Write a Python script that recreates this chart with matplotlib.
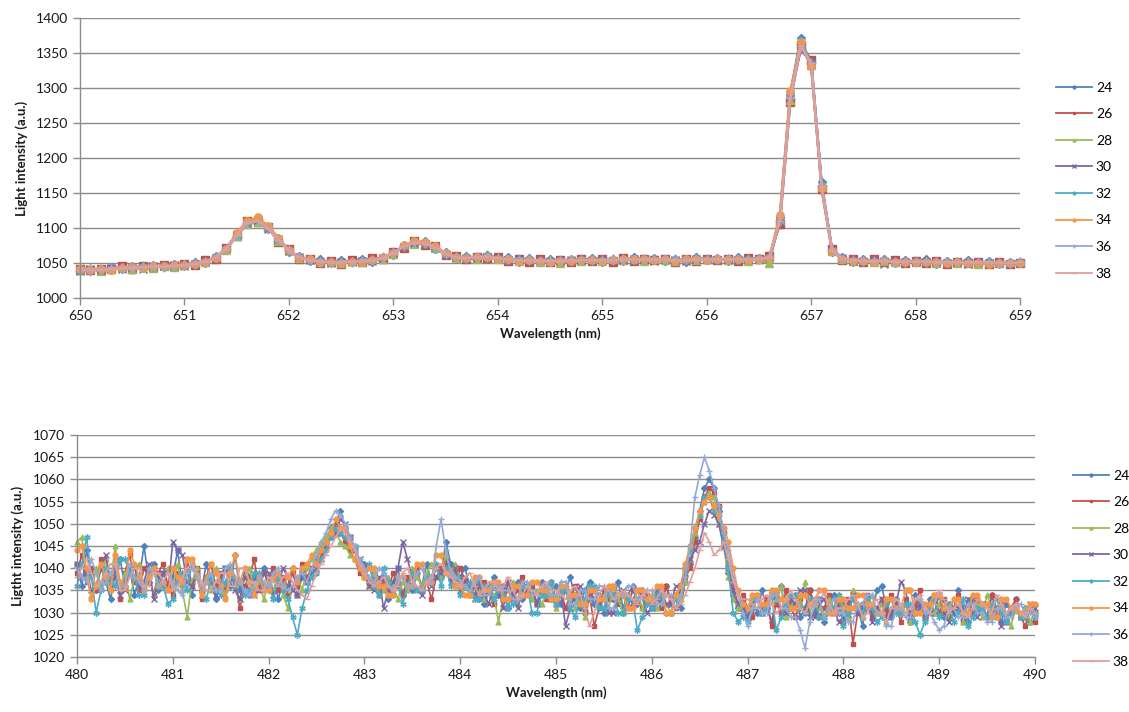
import numpy as np
import matplotlib
matplotlib.use("Agg")
import matplotlib.pyplot as plt

plt.rcParams['font.family'] = ['Lato', 'DejaVu Sans']

# series names and wavelength grids (nm)
series_names = ["24", "26", "28", "30", "32", "34", "36", "38"]
top_wl = np.round(650.0 + 0.1 * np.arange(91), 2)
bottom_wl = np.round(480.0 + 0.05 * np.arange(201), 2)

# top panel intensities (a.u.), 650.0 -> 659.0 nm, step 0.1
top_24 = [1039, 1042, 1038, 1044, 1042, 1045, 1043, 1047, 1044, 1048,
          1046, 1051, 1050, 1060, 1068, 1092, 1106, 1112, 1098, 1085,
          1066, 1060, 1053, 1055, 1050, 1054, 1051, 1056, 1052, 1059,
          1062, 1076, 1078, 1081, 1070, 1065, 1056, 1060, 1055, 1062,
          1056, 1058, 1052, 1057, 1051, 1055, 1052, 1056, 1053, 1057,
          1052, 1056, 1053, 1058, 1054, 1057, 1053, 1056, 1052, 1058,
          1054, 1057, 1053, 1058, 1054, 1057, 1057, 1115, 1290, 1372,
          1330, 1165, 1066, 1058, 1052, 1056, 1051, 1055, 1050, 1054,
          1051, 1055, 1049, 1053, 1050, 1054, 1049, 1053, 1048, 1052,
          1052]
top_26 = [1041, 1040, 1042, 1041, 1045, 1042, 1046, 1044, 1047, 1045,
          1049, 1047, 1054, 1056, 1072, 1088, 1110, 1108, 1102, 1080,
          1070, 1056, 1056, 1050, 1053, 1049, 1054, 1052, 1057, 1055,
          1066, 1072, 1081, 1076, 1074, 1061, 1060, 1055, 1059, 1057,
          1058, 1053, 1056, 1052, 1055, 1051, 1054, 1052, 1055, 1053,
          1056, 1052, 1057, 1053, 1056, 1054, 1055, 1052, 1056, 1053,
          1056, 1054, 1056, 1053, 1057, 1055, 1060, 1105, 1280, 1362,
          1340, 1155, 1070, 1054, 1056, 1051, 1055, 1052, 1054, 1050,
          1053, 1050, 1053, 1049, 1052, 1050, 1052, 1048, 1051, 1049,
          1050]
top_28 = [1040, 1043, 1039, 1042, 1044, 1041, 1045, 1043, 1046, 1044,
          1048, 1050, 1051, 1059, 1069, 1089, 1105, 1109, 1101, 1082,
          1069, 1057, 1055, 1051, 1052, 1050, 1053, 1051, 1055, 1056,
          1063, 1075, 1077, 1079, 1071, 1064, 1057, 1058, 1056, 1060,
          1055, 1056, 1053, 1055, 1052, 1054, 1050, 1055, 1053, 1055,
          1053, 1055, 1054, 1056, 1053, 1056, 1054, 1053, 1055, 1054,
          1055, 1056, 1054, 1055, 1053, 1056, 1050, 1112, 1283, 1358,
          1333, 1158, 1067, 1055, 1053, 1054, 1052, 1053, 1051, 1053,
          1051, 1053, 1050, 1052, 1050, 1052, 1049, 1051, 1050, 1051,
          1051]
top_30 = [1038, 1041, 1040, 1043, 1042, 1044, 1042, 1045, 1045, 1047,
          1046, 1048, 1053, 1057, 1071, 1091, 1107, 1111, 1099, 1084,
          1067, 1059, 1054, 1052, 1050, 1051, 1052, 1053, 1053, 1057,
          1064, 1073, 1079, 1077, 1073, 1062, 1059, 1056, 1057, 1058,
          1057, 1054, 1055, 1053, 1054, 1052, 1053, 1054, 1054, 1053,
          1055, 1053, 1054, 1055, 1056, 1053, 1055, 1054, 1053, 1056,
          1055, 1054, 1056, 1054, 1056, 1055, 1057, 1108, 1288, 1355,
          1338, 1162, 1069, 1057, 1053, 1052, 1054, 1049, 1053, 1051,
          1052, 1051, 1052, 1050, 1051, 1049, 1052, 1050, 1050, 1049,
          1050]
top_32 = [1041, 1039, 1041, 1042, 1043, 1044, 1045, 1044, 1046, 1046,
          1047, 1050, 1052, 1058, 1070, 1090, 1109, 1113, 1100, 1083,
          1068, 1058, 1054, 1053, 1052, 1052, 1051, 1054, 1054, 1058,
          1065, 1074, 1080, 1079, 1072, 1063, 1058, 1058, 1059, 1061,
          1057, 1055, 1055, 1054, 1053, 1053, 1054, 1053, 1055, 1054,
          1054, 1055, 1055, 1054, 1055, 1056, 1054, 1055, 1054, 1055,
          1056, 1055, 1055, 1056, 1055, 1056, 1058, 1112, 1292, 1368,
          1336, 1163, 1068, 1056, 1054, 1053, 1053, 1054, 1052, 1052,
          1053, 1052, 1051, 1052, 1051, 1051, 1050, 1051, 1050, 1050,
          1052]
top_34 = [1042, 1040, 1041, 1040, 1043, 1044, 1043, 1046, 1045, 1047,
          1047, 1049, 1052, 1057, 1070, 1093, 1110, 1115, 1103, 1086,
          1068, 1057, 1055, 1052, 1051, 1050, 1052, 1052, 1054, 1058,
          1064, 1075, 1081, 1080, 1074, 1064, 1058, 1057, 1058, 1058,
          1056, 1055, 1053, 1054, 1053, 1052, 1053, 1053, 1054, 1054,
          1053, 1054, 1055, 1056, 1055, 1054, 1055, 1053, 1055, 1055,
          1054, 1055, 1055, 1055, 1054, 1056, 1057, 1118, 1295, 1365,
          1332, 1157, 1067, 1056, 1053, 1053, 1052, 1053, 1052, 1051,
          1052, 1051, 1051, 1050, 1051, 1050, 1050, 1049, 1050, 1050,
          1050]
top_36 = [1039, 1041, 1040, 1043, 1043, 1042, 1044, 1045, 1044, 1046,
          1047, 1049, 1052, 1058, 1070, 1089, 1107, 1110, 1100, 1083,
          1068, 1058, 1054, 1052, 1051, 1051, 1052, 1053, 1054, 1057,
          1064, 1074, 1079, 1078, 1072, 1063, 1058, 1057, 1058, 1059,
          1057, 1055, 1054, 1054, 1053, 1053, 1053, 1054, 1054, 1054,
          1054, 1054, 1055, 1055, 1055, 1055, 1055, 1054, 1054, 1055,
          1055, 1055, 1055, 1055, 1055, 1056, 1058, 1110, 1286, 1360,
          1335, 1160, 1068, 1056, 1054, 1053, 1053, 1053, 1052, 1052,
          1052, 1052, 1051, 1051, 1051, 1051, 1051, 1051, 1050, 1050,
          1051]
top_38 = [1040, 1041, 1040, 1042, 1043, 1043, 1044, 1045, 1045, 1046,
          1047, 1049, 1052, 1058, 1070, 1090, 1108, 1110, 1100, 1083,
          1068, 1058, 1054, 1052, 1051, 1051, 1052, 1053, 1054, 1057,
          1064, 1074, 1079, 1078, 1072, 1063, 1058, 1057, 1058, 1059,
          1057, 1055, 1054, 1054, 1053, 1053, 1053, 1054, 1054, 1054,
          1054, 1054, 1055, 1055, 1055, 1055, 1055, 1054, 1054, 1055,
          1055, 1055, 1055, 1055, 1055, 1056, 1058, 1110, 1285, 1360,
          1335, 1160, 1068, 1056, 1054, 1053, 1053, 1053, 1052, 1052,
          1052, 1052, 1051, 1051, 1051, 1051, 1051, 1051, 1050, 1050,
          1051]

# bottom panel intensities (a.u.), 480.0 -> 490.0 nm, step 0.05 (one row per nm)
bot_24 = [1041, 1036, 1044, 1039, 1035, 1040, 1037, 1033, 1039, 1042, 1036, 1040, 1034, 1038, 1045, 1037, 1041, 1035, 1039, 1036,
          1038, 1044, 1036, 1040, 1034, 1039, 1035, 1041, 1037, 1033, 1038, 1040, 1036, 1043, 1035, 1039, 1034, 1038, 1036, 1040,
          1035, 1039, 1033, 1037, 1036, 1040, 1034, 1038, 1037, 1039, 1042, 1044, 1046, 1049, 1050, 1053, 1049, 1047, 1044, 1040,
          1041, 1037, 1039, 1035, 1038, 1033, 1036, 1040, 1034, 1037, 1035, 1039, 1036, 1041, 1037, 1040, 1038, 1046, 1041, 1039,
          1038, 1040, 1036, 1034, 1037, 1032, 1035, 1038, 1034, 1036, 1031, 1035, 1037, 1033, 1036, 1034, 1032, 1037, 1035, 1033,
          1036, 1032, 1035, 1038, 1033, 1031, 1035, 1037, 1032, 1034, 1030, 1035, 1033, 1037, 1031, 1034, 1036, 1032, 1035, 1033,
          1031, 1035, 1033, 1036, 1032, 1034, 1031, 1037, 1041, 1047, 1053, 1058, 1060, 1058, 1053, 1046, 1039, 1034, 1031, 1033,
          1029, 1033, 1030, 1035, 1031, 1028, 1033, 1036, 1030, 1032, 1034, 1029, 1031, 1035, 1030, 1033, 1028, 1032, 1034, 1030,
          1032, 1029, 1034, 1031, 1027, 1033, 1030, 1035, 1036, 1031, 1029, 1033, 1030, 1032, 1028, 1034, 1031, 1029, 1033, 1030,
          1034, 1029, 1032, 1030, 1035, 1031, 1028, 1033, 1030, 1032, 1029, 1034, 1031, 1028, 1032, 1030, 1033, 1029, 1031, 1028,
          1030]
bot_26 = [1039, 1043, 1037, 1040, 1035, 1042, 1038, 1036, 1041, 1033, 1039, 1043, 1037, 1035, 1040, 1038, 1034, 1039, 1041, 1036,
          1034, 1039, 1037, 1042, 1036, 1040, 1033, 1038, 1041, 1036, 1039, 1035, 1040, 1037, 1031, 1036, 1038, 1042, 1035, 1039,
          1037, 1040, 1035, 1038, 1034, 1039, 1036, 1041, 1038, 1040, 1039, 1043, 1045, 1047, 1050, 1048, 1046, 1044, 1042, 1039,
          1040, 1036, 1038, 1034, 1037, 1035, 1039, 1036, 1034, 1038, 1036, 1040, 1035, 1037, 1033, 1038, 1040, 1042, 1038, 1036,
          1040, 1037, 1034, 1036, 1033, 1037, 1035, 1032, 1036, 1034, 1037, 1033, 1035, 1038, 1034, 1036, 1032, 1035, 1033, 1037,
          1033, 1035, 1031, 1034, 1036, 1033, 1030, 1034, 1027, 1031, 1035, 1033, 1036, 1032, 1034, 1031, 1035, 1033, 1031, 1034,
          1032, 1034, 1031, 1036, 1033, 1031, 1035, 1038, 1040, 1046, 1051, 1056, 1058, 1057, 1054, 1048, 1041, 1036, 1032, 1034,
          1031, 1029, 1034, 1031, 1033, 1027, 1032, 1030, 1035, 1031, 1029, 1033, 1030, 1035, 1032, 1029, 1031, 1034, 1030, 1032,
          1028, 1033, 1023, 1030, 1032, 1034, 1029, 1031, 1033, 1030, 1034, 1031, 1028, 1033, 1030, 1032, 1035, 1029, 1031, 1034,
          1030, 1033, 1029, 1031, 1034, 1028, 1032, 1030, 1033, 1031, 1029, 1034, 1030, 1032, 1028, 1031, 1033, 1029, 1027, 1031,
          1028]
bot_28 = [1046, 1047, 1038, 1034, 1040, 1036, 1042, 1037, 1045, 1035, 1039, 1033, 1038, 1041, 1036, 1039, 1034, 1038, 1036, 1040,
          1036, 1041, 1035, 1029, 1037, 1040, 1034, 1038, 1035, 1040, 1037, 1034, 1039, 1036, 1033, 1038, 1040, 1035, 1037, 1033,
          1037, 1035, 1039, 1034, 1031, 1036, 1038, 1035, 1040, 1042, 1044, 1046, 1047, 1049, 1048, 1046, 1045, 1043, 1042, 1040,
          1038, 1036, 1039, 1034, 1035, 1038, 1036, 1033, 1037, 1035, 1040, 1038, 1036, 1039, 1041, 1040, 1038, 1043, 1039, 1041,
          1037, 1036, 1034, 1038, 1035, 1033, 1036, 1034, 1028, 1033, 1035, 1037, 1032, 1034, 1036, 1033, 1035, 1032, 1034, 1036,
          1031, 1034, 1036, 1033, 1031, 1035, 1029, 1033, 1035, 1032, 1034, 1031, 1036, 1033, 1030, 1034, 1032, 1035, 1031, 1033,
          1034, 1031, 1035, 1032, 1030, 1034, 1033, 1037, 1042, 1048, 1052, 1055, 1057, 1056, 1050, 1045, 1038, 1033, 1031, 1030,
          1031, 1033, 1034, 1030, 1032, 1035, 1033, 1036, 1029, 1031, 1034, 1032, 1037, 1030, 1033, 1031, 1029, 1033, 1031, 1034,
          1031, 1029, 1035, 1032, 1029, 1031, 1034, 1030, 1032, 1028, 1031, 1033, 1030, 1032, 1028, 1030, 1033, 1029, 1031, 1030,
          1032, 1030, 1029, 1033, 1031, 1028, 1033, 1030, 1032, 1029, 1034, 1031, 1029, 1032, 1030, 1027, 1031, 1029, 1031, 1028,
          1030]
bot_30 = [1041, 1038, 1039, 1035, 1036, 1040, 1043, 1037, 1038, 1034, 1035, 1039, 1040, 1036, 1037, 1041, 1033, 1038, 1039, 1035,
          1046, 1044, 1043, 1037, 1036, 1039, 1034, 1037, 1038, 1034, 1036, 1040, 1040, 1035, 1033, 1038, 1037, 1034, 1035, 1039,
          1039, 1034, 1036, 1040, 1038, 1035, 1034, 1039, 1037, 1040, 1040, 1042, 1045, 1047, 1048, 1051, 1050, 1047, 1044, 1042,
          1039, 1036, 1035, 1038, 1031, 1035, 1037, 1040, 1046, 1042, 1038, 1035, 1034, 1037, 1036, 1038, 1039, 1041, 1037, 1040,
          1035, 1038, 1036, 1033, 1036, 1034, 1032, 1036, 1035, 1031, 1037, 1034, 1031, 1035, 1034, 1036, 1032, 1034, 1036, 1033,
          1032, 1035, 1027, 1031, 1034, 1036, 1031, 1033, 1035, 1032, 1033, 1030, 1030, 1034, 1035, 1031, 1032, 1035, 1034, 1030,
          1031, 1033, 1035, 1032, 1032, 1036, 1036, 1039, 1042, 1044, 1046, 1050, 1053, 1052, 1050, 1045, 1040, 1035, 1032, 1031,
          1029, 1032, 1033, 1030, 1031, 1034, 1034, 1031, 1030, 1033, 1032, 1035, 1035, 1029, 1029, 1032, 1033, 1030, 1031, 1028,
          1029, 1031, 1034, 1030, 1031, 1033, 1028, 1031, 1033, 1029, 1030, 1032, 1037, 1035, 1029, 1031, 1032, 1029, 1030, 1033,
          1034, 1030, 1028, 1031, 1031, 1029, 1033, 1030, 1029, 1032, 1032, 1030, 1030, 1027, 1028, 1031, 1031, 1029, 1029, 1032,
          1031]
bot_32 = [1036, 1041, 1047, 1038, 1030, 1035, 1040, 1037, 1036, 1042, 1042, 1039, 1038, 1034, 1034, 1038, 1040, 1037, 1036, 1032,
          1033, 1037, 1039, 1035, 1041, 1038, 1035, 1033, 1038, 1035, 1034, 1037, 1040, 1036, 1037, 1034, 1035, 1039, 1039, 1036,
          1036, 1033, 1038, 1035, 1033, 1029, 1025, 1031, 1035, 1038, 1039, 1042, 1044, 1047, 1049, 1048, 1047, 1045, 1045, 1041,
          1039, 1041, 1036, 1034, 1040, 1037, 1034, 1037, 1032, 1036, 1039, 1035, 1035, 1038, 1038, 1041, 1036, 1040, 1036, 1038,
          1034, 1036, 1037, 1033, 1033, 1036, 1036, 1033, 1035, 1034, 1031, 1032, 1033, 1036, 1036, 1030, 1030, 1034, 1034, 1037,
          1032, 1035, 1035, 1031, 1029, 1033, 1033, 1036, 1036, 1031, 1031, 1034, 1034, 1030, 1030, 1033, 1033, 1026, 1029, 1032,
          1031, 1034, 1034, 1030, 1030, 1033, 1036, 1040, 1044, 1049, 1052, 1056, 1056, 1053, 1053, 1046, 1040, 1030, 1028, 1029,
          1028, 1031, 1033, 1030, 1031, 1034, 1026, 1029, 1032, 1034, 1034, 1031, 1030, 1033, 1033, 1029, 1029, 1031, 1031, 1034,
          1027, 1030, 1033, 1031, 1030, 1033, 1031, 1028, 1029, 1032, 1033, 1030, 1030, 1032, 1032, 1028, 1025, 1028, 1031, 1033,
          1029, 1031, 1032, 1028, 1030, 1033, 1027, 1029, 1031, 1031, 1029, 1032, 1033, 1030, 1028, 1031, 1031, 1029, 1029, 1031,
          1029]
bot_34 = [1044, 1045, 1040, 1033, 1036, 1041, 1038, 1035, 1043, 1037, 1036, 1044, 1041, 1038, 1035, 1038, 1040, 1036, 1037, 1035,
          1040, 1038, 1037, 1042, 1042, 1038, 1034, 1037, 1041, 1039, 1036, 1033, 1039, 1043, 1037, 1040, 1037, 1034, 1038, 1035,
          1035, 1038, 1039, 1036, 1038, 1040, 1037, 1040, 1041, 1043, 1041, 1044, 1046, 1048, 1051, 1049, 1049, 1045, 1042, 1040,
          1038, 1040, 1040, 1036, 1036, 1034, 1034, 1038, 1038, 1036, 1036, 1041, 1041, 1037, 1037, 1043, 1043, 1039, 1039, 1036,
          1036, 1034, 1034, 1038, 1038, 1035, 1035, 1037, 1037, 1033, 1033, 1036, 1036, 1034, 1034, 1037, 1037, 1035, 1035, 1033,
          1033, 1036, 1036, 1034, 1034, 1032, 1032, 1035, 1035, 1033, 1033, 1036, 1036, 1034, 1034, 1031, 1031, 1035, 1035, 1033,
          1033, 1036, 1036, 1030, 1030, 1034, 1036, 1041, 1045, 1049, 1053, 1055, 1056, 1054, 1052, 1049, 1046, 1040, 1035, 1032,
          1031, 1034, 1034, 1032, 1032, 1035, 1035, 1033, 1033, 1031, 1031, 1034, 1034, 1032, 1032, 1035, 1035, 1030, 1030, 1033,
          1033, 1031, 1031, 1034, 1034, 1032, 1032, 1030, 1030, 1033, 1033, 1031, 1031, 1035, 1035, 1030, 1030, 1032, 1032, 1034,
          1034, 1031, 1031, 1033, 1033, 1030, 1030, 1034, 1034, 1032, 1032, 1029, 1029, 1033, 1033, 1031, 1031, 1030, 1030, 1032,
          1032]
bot_36 = [1040, 1038, 1037, 1042, 1039, 1035, 1037, 1039, 1041, 1036, 1036, 1041, 1038, 1037, 1035, 1040, 1039, 1036, 1037, 1039,
          1037, 1035, 1034, 1039, 1040, 1038, 1036, 1037, 1039, 1035, 1035, 1040, 1041, 1038, 1037, 1035, 1034, 1036, 1038, 1037,
          1036, 1039, 1040, 1036, 1035, 1036, 1038, 1039, 1037, 1040, 1043, 1046, 1048, 1051, 1053, 1052, 1050, 1047, 1045, 1042,
          1040, 1038, 1037, 1040, 1039, 1036, 1035, 1038, 1038, 1036, 1036, 1039, 1040, 1037, 1037, 1045, 1051, 1044, 1039, 1038,
          1037, 1036, 1035, 1037, 1038, 1034, 1034, 1036, 1036, 1035, 1035, 1033, 1033, 1037, 1037, 1034, 1034, 1036, 1036, 1034,
          1034, 1037, 1037, 1032, 1032, 1035, 1035, 1033, 1033, 1036, 1036, 1031, 1031, 1034, 1034, 1036, 1036, 1033, 1033, 1035,
          1035, 1032, 1032, 1034, 1034, 1031, 1034, 1038, 1045, 1056, 1061, 1065, 1062, 1058, 1054, 1048, 1044, 1038, 1034, 1030,
          1027, 1031, 1033, 1030, 1030, 1034, 1034, 1031, 1031, 1029, 1029, 1026, 1022, 1028, 1032, 1033, 1029, 1031, 1033, 1030,
          1030, 1028, 1028, 1032, 1032, 1034, 1034, 1030, 1030, 1027, 1027, 1031, 1031, 1029, 1029, 1033, 1033, 1030, 1030, 1028,
          1026, 1027, 1031, 1031, 1029, 1029, 1032, 1032, 1030, 1030, 1028, 1028, 1031, 1031, 1029, 1029, 1032, 1032, 1030, 1030,
          1029]
bot_38 = [1038, 1040, 1042, 1039, 1036, 1037, 1039, 1041, 1041, 1035, 1035, 1038, 1040, 1040, 1036, 1036, 1039, 1039, 1037, 1039,
          1035, 1036, 1038, 1040, 1041, 1039, 1037, 1035, 1035, 1037, 1039, 1039, 1036, 1036, 1040, 1040, 1037, 1037, 1035, 1035,
          1038, 1037, 1036, 1038, 1039, 1037, 1035, 1034, 1033, 1036, 1039, 1041, 1043, 1045, 1047, 1049, 1048, 1046, 1044, 1041,
          1039, 1037, 1036, 1037, 1038, 1036, 1035, 1036, 1039, 1040, 1037, 1036, 1035, 1037, 1038, 1040, 1041, 1039, 1038, 1037,
          1036, 1038, 1039, 1036, 1034, 1035, 1037, 1037, 1035, 1036, 1038, 1035, 1033, 1034, 1036, 1035, 1034, 1036, 1037, 1035,
          1035, 1034, 1033, 1035, 1036, 1034, 1031, 1027, 1030, 1034, 1036, 1035, 1033, 1034, 1035, 1034, 1033, 1032, 1034, 1035,
          1032, 1033, 1035, 1034, 1033, 1031, 1032, 1034, 1037, 1040, 1044, 1048, 1046, 1043, 1044, 1046, 1042, 1037, 1034, 1033,
          1033, 1032, 1031, 1033, 1034, 1032, 1030, 1031, 1033, 1035, 1033, 1031, 1030, 1032, 1033, 1035, 1034, 1032, 1030, 1031,
          1031, 1033, 1034, 1032, 1029, 1030, 1032, 1033, 1030, 1028, 1031, 1033, 1032, 1030, 1031, 1033, 1034, 1031, 1030, 1032,
          1035, 1033, 1030, 1031, 1032, 1030, 1029, 1031, 1033, 1032, 1031, 1030, 1034, 1032, 1030, 1031, 1032, 1030, 1029, 1031,
          1030]

top_series = [top_24, top_26, top_28, top_30, top_32, top_34, top_36, top_38]
bot_series = [bot_24, bot_26, bot_28, bot_30, bot_32, bot_34, bot_36, bot_38]

# excel-like series styling
colors = ['#4F81BD', '#C0504D', '#9BBB59', '#8064A2', '#4BACC6', '#F79646', '#93A9D6', '#E39E9C']
markers = ['D', 's', '^', 'x', (6, 2, 0), 'o', '+', '_']
msizes = [3, 3.5, 3.5, 4, 4.5, 3.5, 4.5, 4]

grid_color = '#8C8C8C'
label_color = '#1A1A1A'


def style_axes(ax, xlim, ylim, ystep):
    ax.set_xlim(*xlim)
    ax.set_ylim(*ylim)
    ax.set_xticks(np.arange(xlim[0], xlim[1] + 1, 1))
    ax.set_yticks(np.arange(ylim[0], ylim[1] + ystep / 2, ystep))
    ax.yaxis.grid(True, color=grid_color, linewidth=1.0)
    ax.set_axisbelow(True)
    for side in ['top', 'right']:
        ax.spines[side].set_visible(False)
    for side in ['left', 'bottom']:
        ax.spines[side].set_color(grid_color)
        ax.spines[side].set_linewidth(1.0)
    ax.tick_params(axis='both', colors=grid_color, labelcolor=label_color,
                   labelsize=10, length=5, width=1.0, direction='out')
    ax.set_xlabel("Wavelength (nm)", fontsize=9.5, fontweight='bold', color=label_color, labelpad=4)


fig = plt.figure(figsize=(11.29, 7.12), dpi=100)
ax_top = fig.add_axes([0.0709, 0.5815, 0.8326, 0.3933])
ax_bot = fig.add_axes([0.0682, 0.0772, 0.8485, 0.3118])

for i, name in enumerate(series_names):
    # top panel: bigger marks so the overlapping series read as a thick band
    ax_top.plot(top_wl, top_series[i], color=colors[i], marker=markers[i],
                markersize=msizes[i] * 1.5, linewidth=1.8, label=name, clip_on=False)
    ax_bot.plot(bottom_wl, bot_series[i], color=colors[i], marker=markers[i],
                markersize=msizes[i], linewidth=1.2, label=name, clip_on=False)

style_axes(ax_top, (650, 659), (1000, 1400), 50)
style_axes(ax_bot, (480, 490), (1020, 1070), 5)
ax_top.set_ylabel("Light intensity (a.u.)", fontsize=9.5, fontweight='bold', color=label_color, labelpad=6)
ax_bot.set_ylabel("Ligtht intensity (a.u.)", fontsize=9.5, fontweight='bold', color=label_color, labelpad=6)

leg_kw = dict(frameon=False, fontsize=10, handlelength=2.6, labelspacing=1.05,
              handletextpad=0.3, borderaxespad=0)
leg_top = ax_top.legend(loc='upper left', bbox_to_anchor=(1050 / 1129, 1 - 76 / 712),
                        bbox_transform=fig.transFigure, markerscale=0.4, **leg_kw)
leg_bot = ax_bot.legend(loc='upper left', bbox_to_anchor=(1067 / 1129, 1 - 464 / 712),
                        bbox_transform=fig.transFigure, markerscale=0.6, **leg_kw)
# thin legend lines like the original
for leg in [leg_top, leg_bot]:
    for h in leg.legend_handles:
        h.set_linewidth(1.3)

fig.savefig("out.png", dpi=100)
